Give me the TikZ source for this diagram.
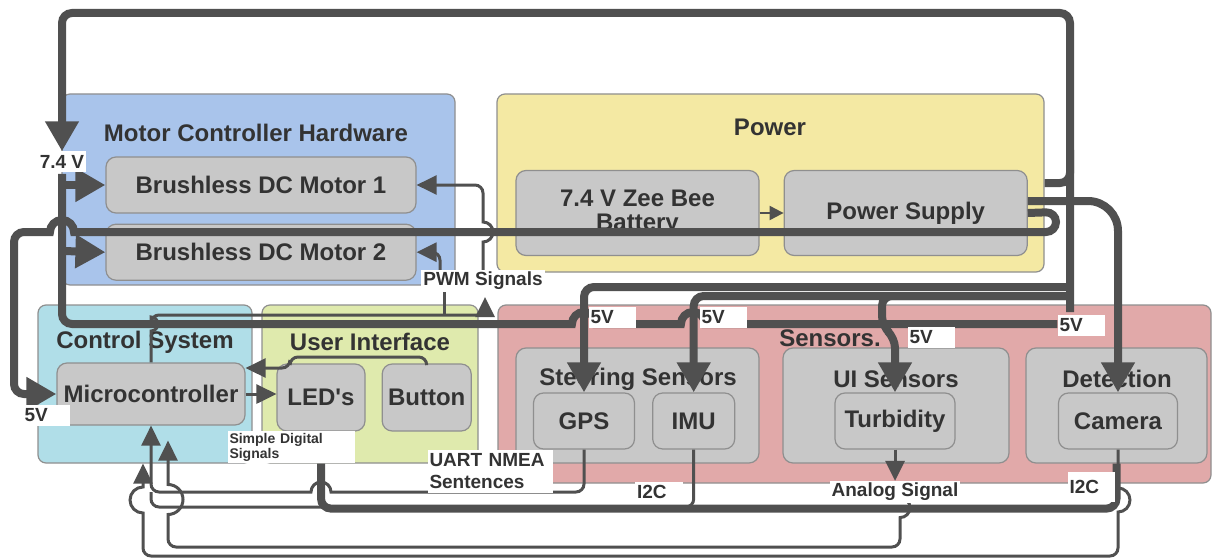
\documentclass[tikz,border=0pt]{standalone}
\usepackage{fontspec}
\setmainfont{Liberation Sans}
\usetikzlibrary{arrows.meta,positioning}

\definecolor{linegray}{HTML}{505050}
\definecolor{ink}{HTML}{333333}
\definecolor{framegray}{HTML}{8F8F8F}
\definecolor{boxgray}{HTML}{C8C8C8}
\definecolor{mchblue}{HTML}{A9C4EB}
\definecolor{pwryellow}{HTML}{F4E9A3}
\definecolor{ctlblue}{HTML}{B0DEE8}
\definecolor{uigreen}{HTML}{DFEAAD}
\definecolor{senspink}{HTML}{E1A9A9}

\pgfdeclarelayer{front}
\pgfsetlayers{main,front}

\tikzset{
  zone/.style={draw=framegray, line width=1.2pt, rounded corners=8pt, inner sep=0pt},
  part/.style={draw=framegray, fill=boxgray, line width=1.2pt, rounded corners=10pt,
    inner sep=0pt, text=ink, align=center, font=\fontsize{24}{24}\selectfont\bfseries},
  head/.style={text=ink, inner sep=0pt, font=\fontsize{24}{24}\selectfont\bfseries},
  tag/.style={fill=white, text=ink, inner sep=2pt, minimum height=21pt,
    font=\fontsize{19}{22}\selectfont\bfseries},
  volt/.style={tag, text width=43pt, align=left},
  rail/.style={draw=linegray, line width=8pt, rounded corners=10pt},
  sig/.style={draw=linegray, line width=3pt, rounded corners=8pt},
  bigtip/.style={-{Triangle[length=30pt,width=32pt]}},
  smalltip/.style={-{Triangle[length=20pt,width=19pt]}},
  sz/.style 2 args={minimum width=#1pt, minimum height=#2pt}
}

\begin{document}
\begin{tikzpicture}[x=1pt, y=-1pt]
  \useasboundingbox (0,0) rectangle (1213,559);

  % Define nodes
  \node[zone, fill=mchblue,   sz={393}{191}] (mch)  at (258.5,189.5) {};
  \node[zone, fill=pwryellow, sz={547}{178}] (pwr)  at (770.5,183)   {};
  \node[zone, fill=ctlblue,   sz={214}{158}] (ctl)  at (145,384)     {};
  \node[zone, fill=uigreen,   sz={216}{158}] (ui)   at (370,384)     {};
  \node[zone, fill=senspink,  sz={713}{178}] (sens) at (854.5,394)   {};
  \node[part, sz={243}{115}]                 (steer) at (637.5,405.5) {};
  \node[part, sz={226}{115}]                 (uis)   at (896,405.5)   {};
  \node[part, sz={181}{115}]                 (det)   at (1116.5,405.5) {};

  \node[head] (mch-t)   at (256,133)  {Motor Controller Hardware};
  \node[head] (pwr-t)   at (770,127)  {Power};
  \node[head] (ctl-t)   at (145,342)  {Control System};
  \node[head] (ui-t)    at (370,342)  {User Interface};
  \node[head] (sens-t)  at (830,338)  {Sensors.};
  \node[head] (steer-t) at (638,379)  {Steering Sensors};
  \node[head] (uis-t)   at (896,379)  {UI Sensors};
  \node[head] (det-t)   at (1117,379) {Detection};

  \node[part, sz={310}{56}]                   (m1)  at (261,185)   {Brushless DC Motor 1};
  \node[part, sz={310}{56}, below=10pt of m1] (m2)                 {Brushless DC Motor 2};
  \node[part, sz={243}{85}]                   (bat) at (637.5,213) {7.4 V Zee Bee\\Battery};
  \node[part, sz={243}{85}, right=24pt of bat] (ps)                {Power Supply};
  \node[part, sz={188}{62}]                   (mc)  at (151,394)   {Microcontroller};
  \node[part, sz={88}{67}]                    (led) at (321,397.5) {LED{\textquotesingle}s};
  \node[part, sz={89}{67}, right=16pt of led] (bt)                 {Button};
  \node[part, sz={101}{56}]                   (gps) at (584,421)   {GPS};
  \node[part, sz={82}{56}, right=17pt of gps] (imu)                {IMU};
  \node[part, sz={120}{56}]                   (tb)  at (895,421)   {Turbidity};
  \node[part, sz={119}{56}]                   (cam) at (1118,421)  {Camera};

  % Labels
  \begin{pgfonlayer}{front}
    \node[tag]  (lab74) at (62,162)   {7.4 V};
    \node[volt] (v5mc)  at (46,415)   {5V};
    \node[volt] (v5gps) at (612,317)  {5V};
    \node[volt] (v5imu) at (723,317)  {5V};
    \node[volt] (v5tb)  at (931,337)  {5V};
    \node[volt] (v5r)   at (1081,325) {5V};
    \node[tag]  (pwm)   at (483,281)  {PWM Signals};
    \node[tag, font=\fontsize{14}{15}\selectfont\bfseries, text width=123pt,
      align=left, minimum height=30pt] (sds) at (291,447) {Simple Digital\\Signals};
    \node[tag, text width=121pt, align=left, minimum height=43pt]
      (uart) at (490,471) {UART NMEA\\Sentences};
    \node[volt, text width=44pt] (i2ci)  at (659,492)  {I2C};
    \node[tag]                   (analog) at (895,492) {Analog Signal};
    \node[volt, minimum height=30pt] (i2cc) at (1091,487) {I2C};
  \end{pgfonlayer}

  % Connect the nodes
  \draw[sig, -{Triangle[length=14pt,width=14pt]}, line width=2pt] (bat.east) -- (ps.west);
  \draw[sig, smalltip] (mc.east) -- (led.west |- mc.east);
  \draw[sig, smalltip] (bt.north) |- (290,357) |- ([yshift=26pt]mc.east);
  \draw[sig, smalltip] (mc.north) [sharp corners] -- (151,331)
    arc[start angle=-90,end angle=90,radius=7pt]
    [rounded corners=8pt] -- (151,315) -| ([xshift=2pt,yshift=-5pt]pwm.south);
  \draw[sig] ([xshift=-39pt]pwm.south) -- ++(0,23.5);
  \draw[sig, smalltip] (pwm.north) [sharp corners] -- (483,242)
    arc[start angle=-90,end angle=90,radius=10pt]
    [rounded corners=8pt] |- (m1.east);
  \draw[sig, smalltip] ([xshift=-43pt]pwm.north) |- (m2.east);
  \draw[sig, smalltip] (gps.south) -- (584,492) [sharp corners] -- (331,492)
    arc[start angle=0,end angle=180,radius=10pt]
    [rounded corners=8pt] -| (mc.south);
  \draw[sig] (imu.south) |- (151,507) -- (151,492);
  \draw[sig, smalltip] (tb.south) -- (analog.north);
  \draw[sig, smalltip, sharp corners] ([xshift=5pt,yshift=5.5pt]analog.south)
    arc[start angle=90,end angle=-90,radius=10pt]
    [rounded corners=8pt] |- (168,547) [sharp corners] -- (168,514.5)
    arc[start angle=-90,end angle=90,radius=15pt] -- ([xshift=17pt,yshift=-15pt]mc.south);
  \draw[sig, smalltip] (cam.south) [sharp corners] -- (1118,488)
    arc[start angle=90,end angle=-90,radius=12pt]
    [rounded corners=8pt] |- (143,556) [sharp corners] -- (143,513)
    arc[start angle=270,end angle=90,radius=13pt] -- ([xshift=-8pt,yshift=-38pt]mc.south);

  \draw[rail, bigtip] (1070,312) -- (1070,13) -- (62,13) -- (lab74.north);
  \draw[rail] (pwr.east) -| (1070,150);
  \draw[rail, rounded corners=30pt, bigtip] ([yshift=12pt]ps.east) -| (cam.north);
  \draw[rail, bigtip] (ps.east) -- (1056,212) -- (1056,232) [sharp corners] -- (74,232)
    arc[start angle=0,end angle=180,radius=12pt]
    [rounded corners=10pt] -- (14,232) |- (mc.west);
  \draw[rail, bigtip] (1070,287) -| (gps.north);
  \draw[rail, bigtip] (1070,296) -| (imu.north);
  \draw[rail, bigtip] (1070,296) -| (882,326) -- (895,338) -- (tb.north);
  \draw[rail, sharp corners] (v5r.west |- 0,324) -- (705,324)
    arc[start angle=0,end angle=180,radius=12pt]
    -- (596,324) arc[start angle=0,end angle=180,radius=12pt]
    [rounded corners=10pt] -- (62,324) -- (62,174);
  \draw[rail, bigtip] (62,185) -- (m1.west);
  \draw[rail, bigtip] (62,251) -- (m2.west);
  \draw[rail] (led.south |- ui.south) -- ++(0,45) -| (det.south);

\end{tikzpicture}
\end{document}
